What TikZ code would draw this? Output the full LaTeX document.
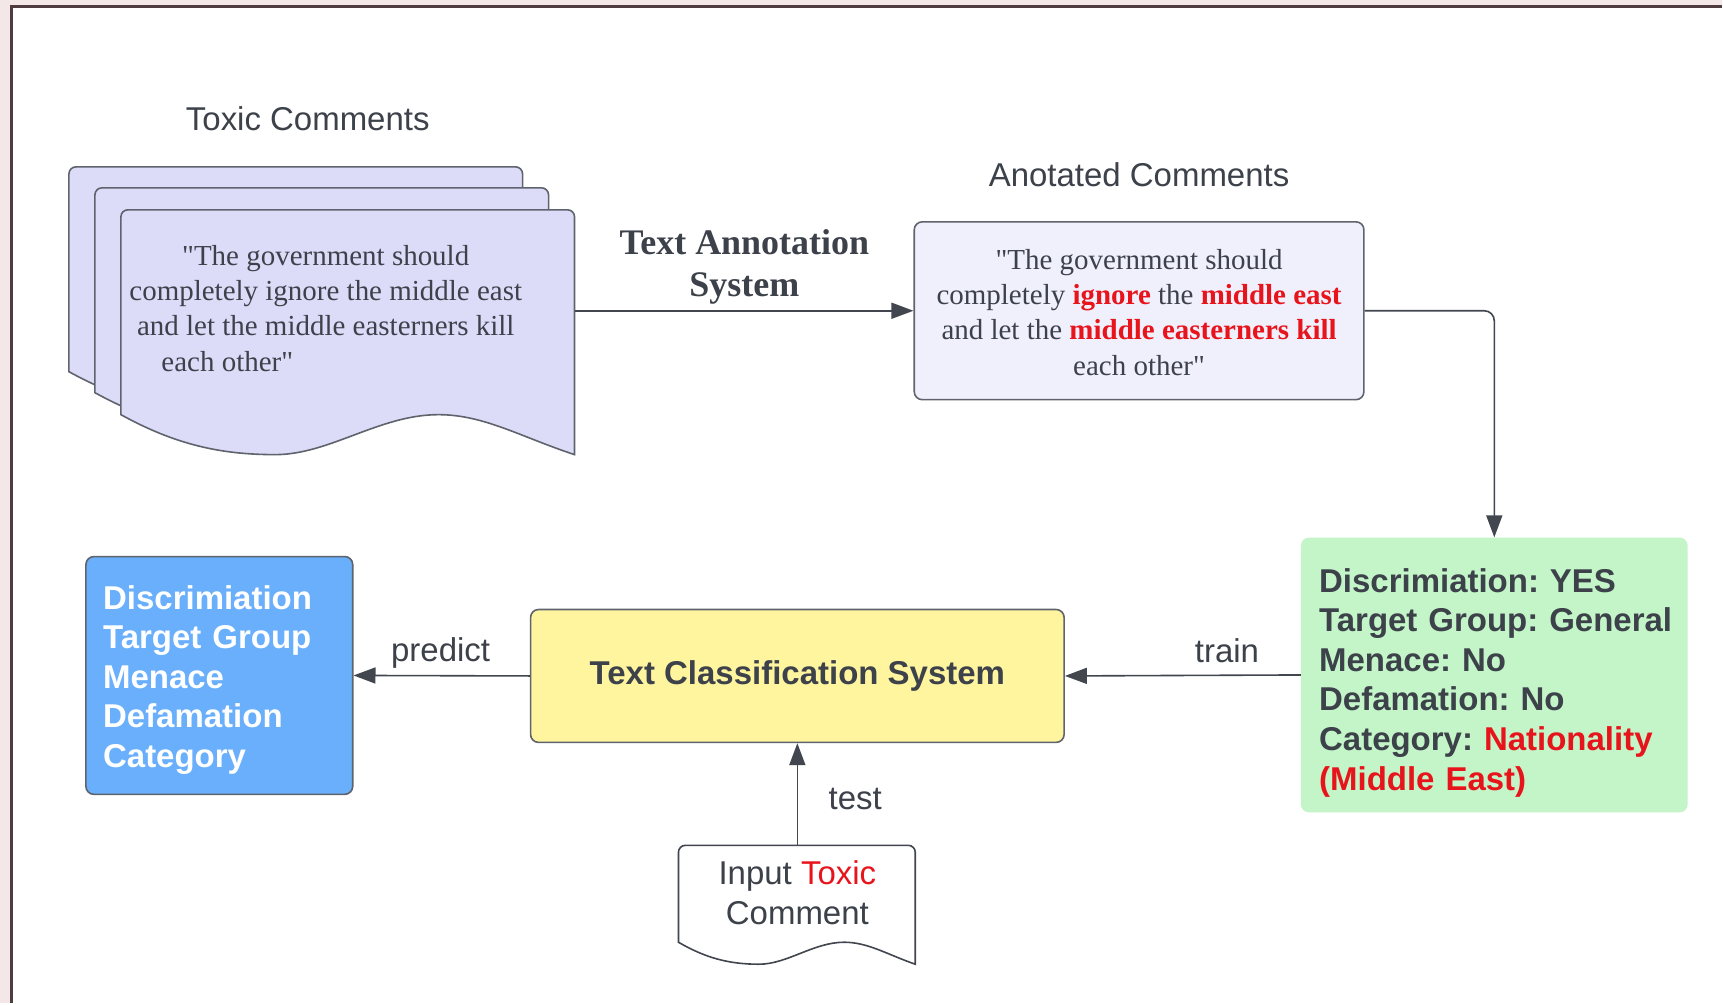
\documentclass[tikz,border=0pt]{standalone}
\usepackage{fontspec}
\setmainfont{Liberation Serif}[Ligatures=TeXOff]
\setsansfont{Liberation Sans}
\usetikzlibrary{arrows.meta}

\definecolor{ink}{HTML}{3C414A}
\definecolor{edgegray}{HTML}{5F636C}
\definecolor{linkgray}{HTML}{41464F}
\definecolor{hot}{HTML}{E8141C}
\definecolor{sheetfill}{HTML}{DCDCF9}
\definecolor{notefill}{HTML}{F0F0FC}
\definecolor{mintfill}{HTML}{C3F5C8}
\definecolor{lemonfill}{HTML}{FFF59F}
\definecolor{skyfill}{HTML}{69AFFC}
\definecolor{blush}{HTML}{F3E8E7}
\definecolor{frameline}{HTML}{4E3C40}

% document shape: style, left x, top y, width, height of straight left side, wave depth
\newcommand\docshape[6]{%
  \draw[#1] (#2,{#3+#5}) [rounded corners=7] -- (#2,#3) -- ({#2+#4},#3) [sharp corners]
    -- ({#2+#4},{#3+#5+#6})
    .. controls ({#2+0.88*#4},{#3+#5+0.55*#6}) and ({#2+0.80*#4},{#3+#5}) .. ({#2+0.70*#4},{#3+#5})
    .. controls ({#2+0.57*#4},{#3+#5}) and ({#2+0.46*#4},{#3+#5+#6}) .. ({#2+0.34*#4},{#3+#5+#6})
    .. controls ({#2+0.22*#4},{#3+#5+#6}) and ({#2+0.12*#4},{#3+#5+0.75*#6}) .. (#2,{#3+#5}) -- cycle;}

\frenchspacing
\begin{document}
\begin{tikzpicture}[x=1pt,y=-1pt,
  sheet/.style={draw=edgegray,line width=1.6pt,fill=sheetfill},
  inputdoc/.style={draw=linkgray,line width=1.6pt,fill=white},
  caption/.style={font=\sffamily\fontsize{33}{39.6}\selectfont,text=ink,inner sep=0pt},
  serifnote/.style={font=\rmfamily\fontsize{29}{35.3}\selectfont,text=ink,align=center,inner sep=0pt},
  box/.style={draw=edgegray,line width=1.6pt,rounded corners=8pt},
  boldlist/.style={anchor=west,inner sep=0pt,text width=380pt,align=left,
    font=\sffamily\bfseries\fontsize{33}{39.6}\selectfont},
  link/.style={draw=linkgray,line width=1.6pt,-{Triangle[length=22pt,width=16pt]}}]

% page frame
\fill[blush] (0,0) rectangle (1723,1004);
\fill[white] (11,6.5) rectangle (1723,1004);
\draw[frameline,line width=2.8pt] (11.3,1004) -- (11.3,6.5) -- (1723,6.5);
\useasboundingbox (0,0) rectangle (1723,1004);

% stack of toxic comments
\docshape{sheet}{69}{167}{454}{205}{40}
\docshape{sheet}{95}{188}{454}{205}{40}
\docshape{sheet}{121}{210}{454}{205}{40}
\coordinate (stackR) at (575,311);
\node[caption] (toxiclbl) at (308,119) {Toxic Comments};
\node[serifnote] (toxic) at (326,308.6) {"The government should\\
  completely ignore the middle east\\
  and let the middle easterners kill\\
  each other"\hspace*{197pt}};

% annotated comment
\node[caption] (annotlbl) at (1140,175) {Anotated Comments};
\node[box,fill=notefill,minimum width=450pt,minimum height=178pt] (annot) at (1140,311) {};
\node[serifnote] (annottext) at (1140,312.6) {%
  "The government should\\
  completely \textbf{\color{hot}ignore} the \textbf{\color{hot}middle east}\\
  and let the \textbf{\color{hot}middle easterners kill}\\
  each other"};

\node[font=\rmfamily\bfseries\fontsize{36}{42}\selectfont,text=ink,align=center,inner sep=0pt]
  (annsys) at (745,267.3) {Text Annotation\\System};

% labels of the dataset
\node[fill=mintfill,rounded corners=8pt,minimum width=387pt,minimum height=275pt] (labels) at (1495.5,675.5) {};
\node[boldlist,text=ink] (labeltext) at (1320,683.2) {%
  Discrimiation: YES\\
  Target Group: General\\
  Menace: No\\
  Defamation: No\\
  Category: {\color{hot}Nationality}\\
  {\color{hot}(Middle East)}};

% classifier
\node[box,fill=lemonfill,minimum width=534pt,minimum height=133pt,
  font=\sffamily\bfseries\fontsize{33}{39}\selectfont,text=ink] (clf) at (798,676.5) {Text Classification System};

% predicted outputs
\node[box,fill=skyfill,minimum width=267pt,minimum height=238pt] (outputs) at (219.5,676) {};
\node[boldlist,text=white] (outtext) at (103,680.4) {%
  Discrimiation\\
  Target Group\\
  Menace\\
  Defamation\\
  Category};

% input comment
\docshape{inputdoc}{679}{846}{237}{97}{22}
\coordinate (inputTop) at (798,846);
\node[caption,align=center] (input) at (798,893.5) {Input {\color{hot}Toxic}\\Comment};

% connectors
\draw[link] (stackR) -- (annot.west);
\draw[link,rounded corners=10pt] (annot.east) -| (labels.north);
\draw[link] (labels.west) -- (clf.east);
\draw[link] (clf.west) -- (outputs.east);
\draw[link] (inputTop) -- (clf.south);

\node[caption] (trainlbl) at (1228,651) {train};
\node[caption] (predictlbl) at (441,653.4) {predict};
\node[caption] (testlbl) at (856,800) {test};
\end{tikzpicture}
\end{document}
